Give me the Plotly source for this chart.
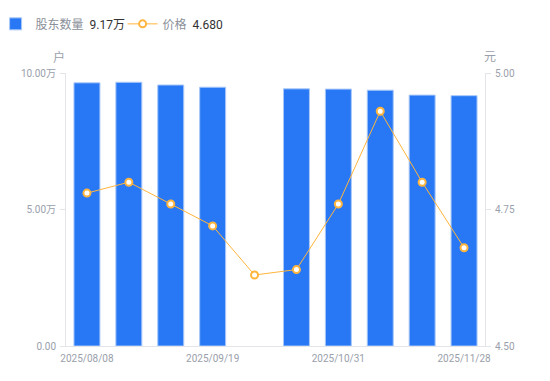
import plotly.graph_objects as go

dates = ["2025/08/08", "2025/08/22", "2025/09/05", "2025/09/19", "2025/09/30",
         "2025/10/17", "2025/10/31", "2025/11/10", "2025/11/20", "2025/11/28"]
holders_wan = [9.64, 9.66, 9.56, 9.48, None, 9.42, 9.41, 9.37, 9.19, 9.17]
price = [4.78, 4.80, 4.76, 4.72, 4.63, 4.64, 4.76, 4.93, 4.80, 4.68]
x_tick_labels = ["2025/08/08", "2025/09/19", "2025/10/31", "2025/11/28"]
left_ticks = [0, 5, 10]
left_tick_text = ["0.00", "5.00万", "10.00万"]
right_ticks = [4.50, 4.75, 5.00]
right_tick_text = ["4.50", "4.75", "5.00"]

FONT = "Roboto, 'Noto Sans CJK SC', sans-serif"
TICKC = "#9aa0ab"
AXC = "#e3e5e8"

fig = go.Figure()
fig.add_trace(go.Bar(
    x=dates, y=holders_wan,
    name="股东数量  <span style='color:#333333'>9.17万</span>",
    marker=dict(color="#2878f5", line=dict(color="#a9c8f8", width=1)),
    width=0.62, yaxis="y",
))
fig.add_trace(go.Scatter(
    x=dates, y=price, mode="lines+markers",
    name="价格  <span style='color:#333333'>4.680</span>",
    line=dict(color="#ffb53d", width=1),
    marker=dict(symbol="circle", size=7, color="#ffffff",
                line=dict(color="#ffb53d", width=2)),
    yaxis="y2",
))

fig.update_layout(
    width=550, height=381,
    margin=dict(l=66, r=65, t=73, b=35, autoexpand=False),
    paper_bgcolor="white", plot_bgcolor="white",
    font=dict(family=FONT, size=10, color=TICKC),
    bargap=0.38,
    showlegend=True,
    legend=dict(orientation="h", x=-0.168, xanchor="left", y=1.18, yanchor="middle",
                font=dict(size=12, color="#8a8f99"), itemwidth=30,
                traceorder="normal", entrywidth=82, entrywidthmode="pixels"),
    xaxis=dict(type="category", categoryarray=dates, range=[-0.5, 9.5],
               tickvals=x_tick_labels, ticklabelstandoff=3,
               ticktext=x_tick_labels, showgrid=False, showline=True, linecolor=AXC,
               ticks="", tickfont=dict(size=10, color=TICKC), zeroline=False),
    yaxis=dict(range=[0, 10], tickvals=left_ticks, ticktext=left_tick_text,
               showgrid=False, showline=True, linecolor=AXC, ticks="outside",
               ticklen=5, tickcolor=AXC, zeroline=False, ticklabelstandoff=2,
               tickfont=dict(size=10, color=TICKC)),
    yaxis2=dict(range=[4.5, 5.0], tickvals=right_ticks, ticktext=right_tick_text,
                overlaying="y", side="right", showgrid=False, showline=True,
                linecolor=AXC, ticks="outside", ticklen=5, tickcolor=AXC,
                zeroline=False, ticklabelstandoff=2,
                tickfont=dict(size=10, color=TICKC)),
    annotations=[
        dict(text="户", xref="paper", yref="paper", x=-0.017, y=1.0, yshift=16,
             yanchor="middle", showarrow=False, font=dict(size=12, color=TICKC),
             xanchor="center"),
        dict(text="元", xref="paper", yref="paper", x=1.012, y=1.0, yshift=16,
             yanchor="middle", showarrow=False, font=dict(size=12, color=TICKC),
             xanchor="center"),
    ],
)

fig.write_html("out.html", config={"displayModeBar": False},
               post_script="document.body.style.margin='0';")
